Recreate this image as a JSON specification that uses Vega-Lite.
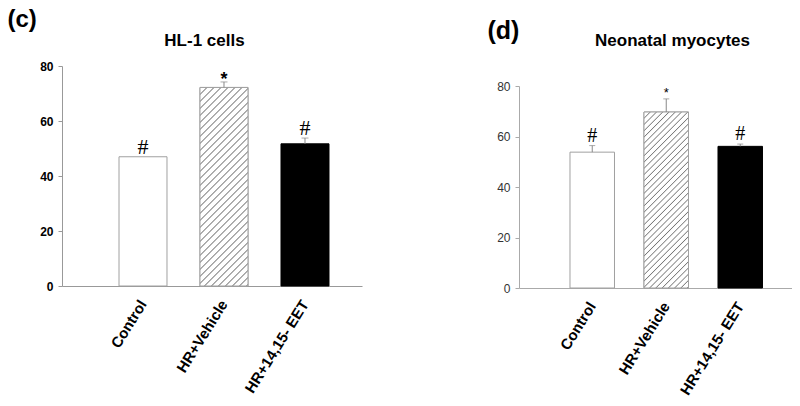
{
  "$schema": "https://vega.github.io/schema/vega-lite/v6.json",
  "padding": {"left": 7, "top": 7, "right": 0, "bottom": 0},
  "background": "white",
  "config": {"view": {"stroke": null}, "font": "Liberation Sans"},
  "bounds": "flush",
  "spacing": 157,
  "hconcat": [
    {
      "width": 300,
      "height": 220,
      "data": {"values": [
        {"group": "Control", "v": 47.0, "e": 47.0, "sig": "#"},
        {"group": "HR+Vehicle", "v": 72.2, "e": 74.2, "sig": "*"},
        {"group": "HR+14,15- EET", "v": 51.7, "e": 53.8, "sig": "#"}
      ]},
      "encoding": {
        "x": {"field": "group", "type": "nominal", "sort": null,
          "scale": {"domain": ["Control", "HR+Vehicle", "HR+14,15- EET"], "paddingInner": 0.4074, "paddingOuter": 0.5556, "align": 0.6333},
          "axis": {"labelAngle": -58, "labelFont": "Liberation Sans", "labelFontSize": 15, "labelFontWeight": "bold", "labelColor": "black", "ticks": false, "domainColor": "#999", "labelPadding": 15,
            "title": "HL-1 cells", "titleX": 142, "titleY": -241, "titleAlign": "center", "titleBaseline": "alphabetic", "titleFontSize": 17, "titleFontWeight": "bold", "titleFont": "Liberation Sans", "titleColor": "black"}}
      },
      "layer": [
        {
          "mark": {"type": "bar", "strokeWidth": 1},
          "encoding": {
            "y": {"field": "v", "type": "quantitative", "scale": {"domain": [0, 80], "nice": false},
              "axis": {"values": [0, 20, 40, 60, 80], "title": "(c)", "titleAngle": 0, "titleAlign": "left", "titleBaseline": "top", "titleX": -55, "titleY": -59, "titleFontSize": 24, "titleFontWeight": "bold", "titleFont": "Liberation Sans", "titleColor": "black", "labelFontSize": 12, "labelFontWeight": "bold", "labelColor": "black", "labelFont": "Liberation Sans", "tickSize": 4, "tickColor": "#999", "domainColor": "#999", "labelPadding": 5, "grid": false}},
            "fill": {"condition": {"test": "datum.group === 'HR+14,15- EET'", "value": "#000000"}, "value": "#ffffff"},
            "stroke": {"condition": {"test": "datum.group === 'HR+14,15- EET'", "value": "#000000"}, "value": "#a0a0a0"}
          }
        },
        {
          "transform": [{"filter": "datum.group === 'HR+Vehicle'"}],
          "mark": {"type": "bar", "stroke": "#a0a0a0", "strokeWidth": 1,
            "fill": {"gradient": "linear", "x1": 0, "y1": 0, "x2": 0.2835, "y2": 1.1731, "stops": [
              {"offset": 0.0234, "color": "#fff"}, {"offset": 0.0284, "color": "#777"}, {"offset": 0.0334, "color": "#fff"},
              {"offset": 0.0518, "color": "#fff"}, {"offset": 0.0568, "color": "#777"}, {"offset": 0.0618, "color": "#fff"},
              {"offset": 0.0802, "color": "#fff"}, {"offset": 0.0852, "color": "#777"}, {"offset": 0.0902, "color": "#fff"},
              {"offset": 0.1086, "color": "#fff"}, {"offset": 0.1136, "color": "#777"}, {"offset": 0.1186, "color": "#fff"},
              {"offset": 0.1370, "color": "#fff"}, {"offset": 0.1420, "color": "#777"}, {"offset": 0.1470, "color": "#fff"},
              {"offset": 0.1653, "color": "#fff"}, {"offset": 0.1703, "color": "#777"}, {"offset": 0.1753, "color": "#fff"},
              {"offset": 0.1937, "color": "#fff"}, {"offset": 0.1987, "color": "#777"}, {"offset": 0.2037, "color": "#fff"},
              {"offset": 0.2221, "color": "#fff"}, {"offset": 0.2271, "color": "#777"}, {"offset": 0.2321, "color": "#fff"},
              {"offset": 0.2505, "color": "#fff"}, {"offset": 0.2555, "color": "#777"}, {"offset": 0.2605, "color": "#fff"},
              {"offset": 0.2789, "color": "#fff"}, {"offset": 0.2839, "color": "#777"}, {"offset": 0.2889, "color": "#fff"},
              {"offset": 0.3073, "color": "#fff"}, {"offset": 0.3123, "color": "#777"}, {"offset": 0.3173, "color": "#fff"},
              {"offset": 0.3357, "color": "#fff"}, {"offset": 0.3407, "color": "#777"}, {"offset": 0.3457, "color": "#fff"},
              {"offset": 0.3641, "color": "#fff"}, {"offset": 0.3691, "color": "#777"}, {"offset": 0.3741, "color": "#fff"},
              {"offset": 0.3925, "color": "#fff"}, {"offset": 0.3975, "color": "#777"}, {"offset": 0.4025, "color": "#fff"},
              {"offset": 0.4209, "color": "#fff"}, {"offset": 0.4259, "color": "#777"}, {"offset": 0.4309, "color": "#fff"},
              {"offset": 0.4492, "color": "#fff"}, {"offset": 0.4542, "color": "#777"}, {"offset": 0.4592, "color": "#fff"},
              {"offset": 0.4776, "color": "#fff"}, {"offset": 0.4826, "color": "#777"}, {"offset": 0.4876, "color": "#fff"},
              {"offset": 0.5060, "color": "#fff"}, {"offset": 0.5110, "color": "#777"}, {"offset": 0.5160, "color": "#fff"},
              {"offset": 0.5344, "color": "#fff"}, {"offset": 0.5394, "color": "#777"}, {"offset": 0.5444, "color": "#fff"},
              {"offset": 0.5628, "color": "#fff"}, {"offset": 0.5678, "color": "#777"}, {"offset": 0.5728, "color": "#fff"},
              {"offset": 0.5912, "color": "#fff"}, {"offset": 0.5962, "color": "#777"}, {"offset": 0.6012, "color": "#fff"},
              {"offset": 0.6196, "color": "#fff"}, {"offset": 0.6246, "color": "#777"}, {"offset": 0.6296, "color": "#fff"},
              {"offset": 0.6480, "color": "#fff"}, {"offset": 0.6530, "color": "#777"}, {"offset": 0.6580, "color": "#fff"},
              {"offset": 0.6764, "color": "#fff"}, {"offset": 0.6814, "color": "#777"}, {"offset": 0.6864, "color": "#fff"},
              {"offset": 0.7048, "color": "#fff"}, {"offset": 0.7098, "color": "#777"}, {"offset": 0.7148, "color": "#fff"},
              {"offset": 0.7331, "color": "#fff"}, {"offset": 0.7381, "color": "#777"}, {"offset": 0.7431, "color": "#fff"},
              {"offset": 0.7615, "color": "#fff"}, {"offset": 0.7665, "color": "#777"}, {"offset": 0.7715, "color": "#fff"},
              {"offset": 0.7899, "color": "#fff"}, {"offset": 0.7949, "color": "#777"}, {"offset": 0.7999, "color": "#fff"},
              {"offset": 0.8183, "color": "#fff"}, {"offset": 0.8233, "color": "#777"}, {"offset": 0.8283, "color": "#fff"},
              {"offset": 0.8467, "color": "#fff"}, {"offset": 0.8517, "color": "#777"}, {"offset": 0.8567, "color": "#fff"},
              {"offset": 0.8751, "color": "#fff"}, {"offset": 0.8801, "color": "#777"}, {"offset": 0.8851, "color": "#fff"},
              {"offset": 0.9035, "color": "#fff"}, {"offset": 0.9085, "color": "#777"}, {"offset": 0.9135, "color": "#fff"},
              {"offset": 0.9319, "color": "#fff"}, {"offset": 0.9369, "color": "#777"}, {"offset": 0.9419, "color": "#fff"},
              {"offset": 0.9603, "color": "#fff"}, {"offset": 0.9653, "color": "#777"}, {"offset": 0.9703, "color": "#fff"},
              {"offset": 0.9887, "color": "#fff"}, {"offset": 0.9937, "color": "#777"}, {"offset": 0.9987, "color": "#fff"}
            ]}},
          "encoding": {"y": {"field": "v", "type": "quantitative"}}
        },
        {
          "mark": {"type": "rule", "color": "#888", "strokeWidth": 1},
          "encoding": {"y": {"field": "v", "type": "quantitative"}, "y2": {"field": "e"}}
        },
        {
          "transform": [{"filter": "datum.e > datum.v"}],
          "mark": {"type": "tick", "color": "#888", "size": 7, "thickness": 1, "orient": "horizontal"},
          "encoding": {"y": {"field": "e", "type": "quantitative"}}
        },
        {
          "transform": [{"filter": "datum.sig === '#'"}],
          "mark": {"type": "text", "font": "Liberation Serif", "fontSize": 22, "baseline": "alphabetic", "dy": -3, "color": "black"},
          "encoding": {"y": {"field": "e", "type": "quantitative"}, "text": {"field": "sig"}}
        },
        {
          "transform": [{"filter": "datum.sig === '*'"}],
          "mark": {"type": "text", "font": "Liberation Sans", "fontSize": 18, "fontWeight": "bold", "baseline": "alphabetic", "dy": 3, "color": "black"},
          "encoding": {"y": {"field": "e", "type": "quantitative"}, "text": {"field": "sig"}}
        }
      ]
    },
    {
      "width": 273,
      "height": 222,
      "data": {"values": [
        {"group": "Control", "v": 53.8, "e": 56.4, "sig": "#"},
        {"group": "HR+Vehicle", "v": 69.7, "e": 74.9, "sig": "*"},
        {"group": "HR+14,15- EET", "v": 56.1, "e": 57.0, "sig": "#"}
      ]},
      "encoding": {
        "x": {"field": "group", "type": "nominal", "sort": null,
          "scale": {"domain": ["Control", "HR+Vehicle", "HR+14,15- EET"], "paddingInner": 0.3986, "paddingOuter": 0.5439, "align": 0.6335},
          "axis": {"labelAngle": -58, "labelFont": "Liberation Sans", "labelFontSize": 15, "labelFontWeight": "bold", "labelColor": "black", "ticks": false, "domainColor": "#aaa", "labelPadding": 15,
            "title": "Neonatal myocytes", "titleX": 153, "titleY": -243, "titleAlign": "center", "titleBaseline": "alphabetic", "titleFontSize": 17, "titleFontWeight": "bold", "titleFont": "Liberation Sans", "titleColor": "black"}}
      },
      "layer": [
        {
          "mark": {"type": "bar", "strokeWidth": 1},
          "encoding": {
            "y": {"field": "v", "type": "quantitative", "scale": {"domain": [0, 80], "nice": false, "range": [222, 20]},
              "axis": {"values": [0, 20, 40, 60, 80], "title": "(d)", "titleAngle": 0, "titleAlign": "left", "titleBaseline": "top", "titleX": -32, "titleY": -48, "titleFontSize": 25, "titleFontWeight": "bold", "titleFont": "Liberation Sans", "titleColor": "black", "labelFontSize": 12, "labelFontWeight": "normal", "labelColor": "#333", "labelFont": "Liberation Sans", "tickSize": 4, "tickColor": "#aaa", "domainColor": "#aaa", "labelPadding": 5, "grid": false}},
            "fill": {"condition": {"test": "datum.group === 'HR+14,15- EET'", "value": "#000000"}, "value": "#ffffff"},
            "stroke": {"condition": {"test": "datum.group === 'HR+14,15- EET'", "value": "#000000"}, "value": "#a0a0a0"}
          }
        },
        {
          "transform": [{"filter": "datum.group === 'HR+Vehicle'"}],
          "mark": {"type": "bar", "stroke": "#a0a0a0", "strokeWidth": 1,
            "fill": {"gradient": "linear", "x1": 0, "y1": 0, "x2": 0.2982, "y2": 1.1777, "stops": [
              {"offset": 0.0234, "color": "#fff"}, {"offset": 0.0284, "color": "#777"}, {"offset": 0.0334, "color": "#fff"},
              {"offset": 0.0518, "color": "#fff"}, {"offset": 0.0568, "color": "#777"}, {"offset": 0.0618, "color": "#fff"},
              {"offset": 0.0802, "color": "#fff"}, {"offset": 0.0852, "color": "#777"}, {"offset": 0.0902, "color": "#fff"},
              {"offset": 0.1086, "color": "#fff"}, {"offset": 0.1136, "color": "#777"}, {"offset": 0.1186, "color": "#fff"},
              {"offset": 0.1370, "color": "#fff"}, {"offset": 0.1420, "color": "#777"}, {"offset": 0.1470, "color": "#fff"},
              {"offset": 0.1653, "color": "#fff"}, {"offset": 0.1703, "color": "#777"}, {"offset": 0.1753, "color": "#fff"},
              {"offset": 0.1937, "color": "#fff"}, {"offset": 0.1987, "color": "#777"}, {"offset": 0.2037, "color": "#fff"},
              {"offset": 0.2221, "color": "#fff"}, {"offset": 0.2271, "color": "#777"}, {"offset": 0.2321, "color": "#fff"},
              {"offset": 0.2505, "color": "#fff"}, {"offset": 0.2555, "color": "#777"}, {"offset": 0.2605, "color": "#fff"},
              {"offset": 0.2789, "color": "#fff"}, {"offset": 0.2839, "color": "#777"}, {"offset": 0.2889, "color": "#fff"},
              {"offset": 0.3073, "color": "#fff"}, {"offset": 0.3123, "color": "#777"}, {"offset": 0.3173, "color": "#fff"},
              {"offset": 0.3357, "color": "#fff"}, {"offset": 0.3407, "color": "#777"}, {"offset": 0.3457, "color": "#fff"},
              {"offset": 0.3641, "color": "#fff"}, {"offset": 0.3691, "color": "#777"}, {"offset": 0.3741, "color": "#fff"},
              {"offset": 0.3925, "color": "#fff"}, {"offset": 0.3975, "color": "#777"}, {"offset": 0.4025, "color": "#fff"},
              {"offset": 0.4209, "color": "#fff"}, {"offset": 0.4259, "color": "#777"}, {"offset": 0.4309, "color": "#fff"},
              {"offset": 0.4492, "color": "#fff"}, {"offset": 0.4542, "color": "#777"}, {"offset": 0.4592, "color": "#fff"},
              {"offset": 0.4776, "color": "#fff"}, {"offset": 0.4826, "color": "#777"}, {"offset": 0.4876, "color": "#fff"},
              {"offset": 0.5060, "color": "#fff"}, {"offset": 0.5110, "color": "#777"}, {"offset": 0.5160, "color": "#fff"},
              {"offset": 0.5344, "color": "#fff"}, {"offset": 0.5394, "color": "#777"}, {"offset": 0.5444, "color": "#fff"},
              {"offset": 0.5628, "color": "#fff"}, {"offset": 0.5678, "color": "#777"}, {"offset": 0.5728, "color": "#fff"},
              {"offset": 0.5912, "color": "#fff"}, {"offset": 0.5962, "color": "#777"}, {"offset": 0.6012, "color": "#fff"},
              {"offset": 0.6196, "color": "#fff"}, {"offset": 0.6246, "color": "#777"}, {"offset": 0.6296, "color": "#fff"},
              {"offset": 0.6480, "color": "#fff"}, {"offset": 0.6530, "color": "#777"}, {"offset": 0.6580, "color": "#fff"},
              {"offset": 0.6764, "color": "#fff"}, {"offset": 0.6814, "color": "#777"}, {"offset": 0.6864, "color": "#fff"},
              {"offset": 0.7048, "color": "#fff"}, {"offset": 0.7098, "color": "#777"}, {"offset": 0.7148, "color": "#fff"},
              {"offset": 0.7331, "color": "#fff"}, {"offset": 0.7381, "color": "#777"}, {"offset": 0.7431, "color": "#fff"},
              {"offset": 0.7615, "color": "#fff"}, {"offset": 0.7665, "color": "#777"}, {"offset": 0.7715, "color": "#fff"},
              {"offset": 0.7899, "color": "#fff"}, {"offset": 0.7949, "color": "#777"}, {"offset": 0.7999, "color": "#fff"},
              {"offset": 0.8183, "color": "#fff"}, {"offset": 0.8233, "color": "#777"}, {"offset": 0.8283, "color": "#fff"},
              {"offset": 0.8467, "color": "#fff"}, {"offset": 0.8517, "color": "#777"}, {"offset": 0.8567, "color": "#fff"},
              {"offset": 0.8751, "color": "#fff"}, {"offset": 0.8801, "color": "#777"}, {"offset": 0.8851, "color": "#fff"},
              {"offset": 0.9035, "color": "#fff"}, {"offset": 0.9085, "color": "#777"}, {"offset": 0.9135, "color": "#fff"},
              {"offset": 0.9319, "color": "#fff"}, {"offset": 0.9369, "color": "#777"}, {"offset": 0.9419, "color": "#fff"},
              {"offset": 0.9603, "color": "#fff"}, {"offset": 0.9653, "color": "#777"}, {"offset": 0.9703, "color": "#fff"},
              {"offset": 0.9887, "color": "#fff"}, {"offset": 0.9937, "color": "#777"}, {"offset": 0.9987, "color": "#fff"}
            ]}},
          "encoding": {"y": {"field": "v", "type": "quantitative"}}
        },
        {
          "mark": {"type": "rule", "color": "#888", "strokeWidth": 1},
          "encoding": {"y": {"field": "v", "type": "quantitative"}, "y2": {"field": "e"}}
        },
        {
          "transform": [{"filter": "datum.e > datum.v"}],
          "mark": {"type": "tick", "color": "#888", "size": 6, "thickness": 1, "orient": "horizontal"},
          "encoding": {"y": {"field": "e", "type": "quantitative"}}
        },
        {
          "transform": [{"filter": "datum.sig === '#'"}],
          "mark": {"type": "text", "font": "Liberation Serif", "fontSize": 20, "baseline": "alphabetic", "dy": -4, "color": "black"},
          "encoding": {"y": {"field": "e", "type": "quantitative"}, "text": {"field": "sig"}}
        },
        {
          "transform": [{"filter": "datum.sig === '*'"}],
          "mark": {"type": "text", "font": "Liberation Sans", "fontSize": 13, "baseline": "alphabetic", "dy": -2, "color": "black"},
          "encoding": {"y": {"field": "e", "type": "quantitative"}, "text": {"field": "sig"}}
        }
      ]
    }
  ]
}
